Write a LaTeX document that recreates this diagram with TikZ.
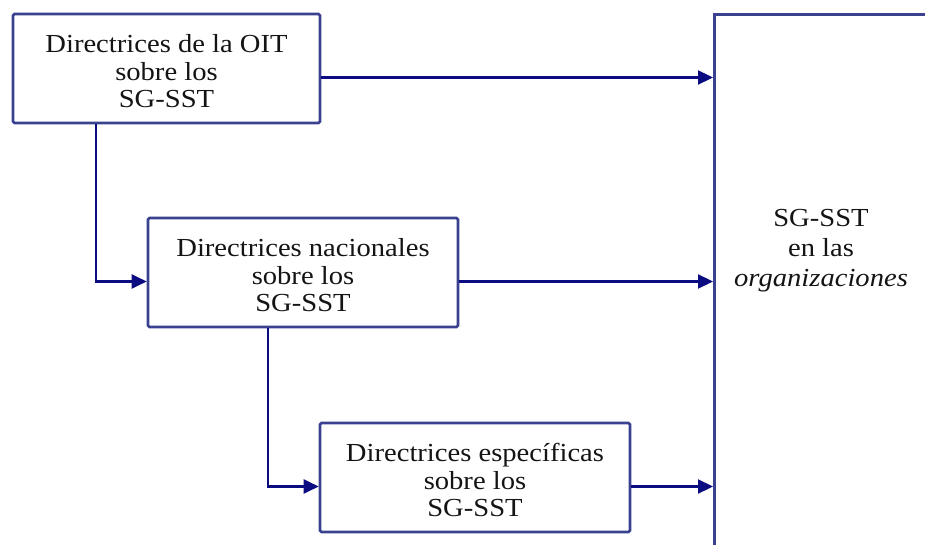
\documentclass[tikz,border=0pt]{standalone}
\usepackage{fontspec}
\setmainfont[FakeStretch=1.1]{Liberation Serif}
\usetikzlibrary{arrows.meta,calc}
\definecolor{boxblue}{HTML}{3A4290}
\definecolor{arrblue}{HTML}{0C0C82}
\definecolor{txt}{HTML}{141414}
\newcommand{\toplift}{\rule{0pt}{24pt}}
\tikzset{
  dbox/.style={draw=boxblue, line width=2.6pt, rounded corners=1.5pt, minimum width=307pt, minimum height=109pt, inner sep=0pt, align=center, text=txt, font=\fontsize{26}{27.5}\selectfont},
  arr/.style={draw=arrblue, line width=2.2pt, -{Triangle[length=15pt,width=14pt]}},
  bigbox/.style={draw=boxblue, line width=2.6pt, minimum width=400pt, minimum height=700pt, inner sep=0pt, anchor=north west}
}
\begin{document}
\begin{tikzpicture}[x=1pt,y=-1pt]
\useasboundingbox (0,0) rectangle (925,545);
\node[bigbox] (org) at (713,13) {};
\node[align=center, text=txt, font=\fontsize{26}{30}\selectfont] (orgtext) at (821,251) {SG-SST\\en las\\\textit{organizaciones}};
\node[dbox] (b1) at (166.5,68.5) {\toplift Directrices de la OIT\\sobre los\\SG-SST};
\node[dbox, minimum width=310pt] (b2) at (303,272.5) {\toplift Directrices nacionales\\sobre los\\SG-SST};
\node[dbox, minimum width=310pt] (b3) at (475,477.5) {\toplift Directrices específicas\\sobre los\\SG-SST};
\coordinate (o1) at ($(b1.east)+(0,9)$);
\coordinate (o2) at ($(b2.east)+(0,9)$);
\coordinate (o3) at ($(b3.east)+(0,9)$);
\coordinate (i2) at ($(b2.west)+(0,9)$);
\coordinate (i3) at ($(b3.west)+(0,9)$);
\coordinate (d1) at ($(b1.south west)+(84.5,0)$);
\coordinate (d2) at ($(b2.south west)+(121.5,0)$);
\draw[arr] (o1) -- (o1 -| org.west);
\draw[arr] (o2) -- (o2 -| org.west);
\draw[arr] (o3) -- (o3 -| org.west);
\draw[arr] (d1) |- (i2);
\draw[arr] (d2) |- (i3);
\end{tikzpicture}
\end{document}
